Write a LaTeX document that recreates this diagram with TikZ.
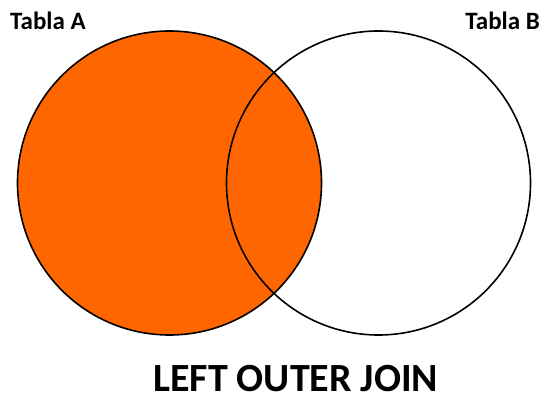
\documentclass[tikz,border=0pt]{standalone}
\usepackage{fontspec}
\setmainfont{Carlito}
\definecolor{joinorange}{HTML}{FF6600}

\begin{document}
\begin{tikzpicture}[x=1pt,y=-1pt,
    tabla/.style={font=\bfseries\fontsize{25}{29}\selectfont,inner sep=0pt},
    circ/.style={draw=black,line width=1.6pt}]
  \useasboundingbox (0,0) rectangle (546,395);
  \fill[joinorange] (169.5,183) circle[radius=152];
  \draw[circ] (169.5,183) circle[radius=152];
  \draw[circ] (378.5,183) circle[radius=152];
  \node[tabla,anchor=base west] (tablaA) at (10,30) {Tabla A};
  \node[tabla,anchor=base east] (tablaB) at (540,30) {Tabla B};
  \node[font=\bfseries\fontsize{40}{46}\selectfont,anchor=base west,inner sep=0pt]
    (titulo) at (153,391) {LEFT OUTER JOIN};
\end{tikzpicture}
\end{document}
